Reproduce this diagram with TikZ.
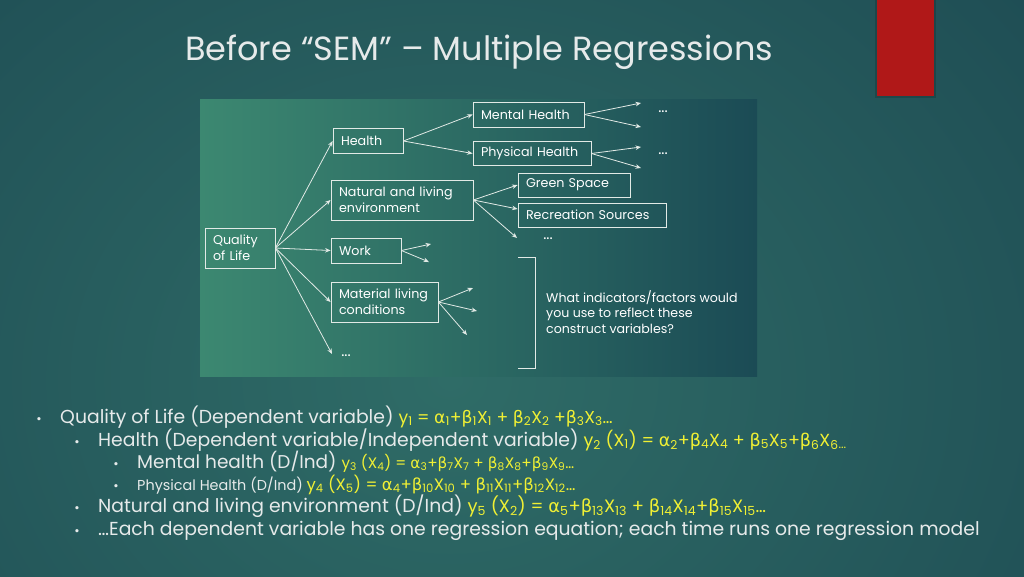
\documentclass[tikz,border=0pt]{standalone}
\usepackage{fontspec}
\setmainfont{Poppins}
\newfontfamily\grkfont{DejaVu Sans}
\usetikzlibrary{arrows.meta}
\definecolor{bgin}{HTML}{2F6C67}
\definecolor{bgout}{HTML}{153B49}
\definecolor{picleft}{HTML}{3C8871}
\definecolor{picright}{HTML}{1B4B55}
\definecolor{boxline}{HTML}{E2EAE6}
\definecolor{slidetxt}{HTML}{E6EAEA}
\definecolor{eqyellow}{HTML}{F0F034}
\definecolor{tagred}{HTML}{B01818}
\pgfdeclareradialshading{slidebg}{\pgfpoint{0bp}{0bp}}{color(0bp)=(bgin); color(50bp)=(bgout)}
\newcommand{\bet}{{\grkfont β}}
\newcommand{\alp}{{\grkfont α}}
\newcommand{\sbs}[1]{\textsubscript{#1}}
\newcommand{\fsz}[1]{\fontsize{#1}{#1}\selectfont}
\tikzset{
  cbox/.style={draw=boxline, line width=0.8pt, text=white, font=\fontsize{12.7}{16}\selectfont, align=left, inner xsep=8pt, inner ysep=0pt, minimum height=25pt},
  link/.style={draw=boxline, line width=0.8pt, -{Stealth[length=5.5pt,width=4.5pt]}},
  dots/.style={text=white, font=\fontsize{15}{15}\selectfont},
  lvlone/.style={text=slidetxt, anchor=base west, inner sep=0pt, font=\fontsize{18.8}{20}\selectfont},
  lvltwo/.style={lvlone},
  lvlthree/.style={lvlone, font=\fontsize{18.5}{20}\selectfont},
  lvlfour/.style={lvlone, font=\fontsize{14.4}{16}\selectfont},
  bul/.style={text=slidetxt, anchor=base, inner sep=0pt, font=\fontsize{13}{13}\selectfont}
}
\begin{document}
\begin{tikzpicture}[x=1pt,y=-1pt]
\useasboundingbox (0,0) rectangle (1024,576);
% slide background
\begin{scope}
\clip (0,0) rectangle (1024,576);
\shade[shading=slidebg] (-150,-120) rectangle (1050,880);
\end{scope}
\fill[black, opacity=0.15] (875,0) rectangle (936,98);
\fill[tagred] (877,0) rectangle (934,96);
\node[text=slidetxt, font=\fontsize{33.5}{36}\selectfont] (title) at (479,52) {Before “SEM” – Multiple Regressions};

% picture of the construct tree
\shade[left color=picleft, right color=picright] (200,99) rectangle (757,376);
\node[cbox, minimum height=40pt, text width=54pt] (qol) at (240,248) {Quality\\of Life};
\node[cbox, text width=54pt] (health) at (368,141) {Health};
\node[cbox, minimum height=40pt, text width=126pt] (natenv) at (402,200) {Natural and living\\environment};
\node[cbox, text width=54pt] (work) at (366,250.5) {Work};
\node[cbox, minimum height=40pt, text width=91pt] (matliv) at (384.5,302) {Material living\\conditions};
\node[cbox, text width=95pt] (mental) at (528.5,114.5) {Mental Health};
\node[cbox, minimum height=24pt, text width=102pt] (physical) at (532,153.5) {Physical Health};
\node[cbox, minimum height=24pt, text width=96pt] (green) at (574,185) {Green Space};
\node[cbox, minimum height=24pt, text width=132pt] (recr) at (592,215) {Recreation Sources};

\coordinate (qolend) at (332,354);
\coordinate (mentA) at (641,103);
\coordinate (mentB) at (641,127);
\coordinate (physA) at (641,147);
\coordinate (physB) at (641,168);
\coordinate (natend) at (517,238);
\coordinate (workA) at (431,244);
\coordinate (workB) at (429,262);
\coordinate (matA) at (473,288);
\coordinate (matB) at (477,311);
\coordinate (matC) at (467,335);

\draw[link] (qol.east) -- (health.west);
\draw[link] (qol.east) -- (natenv.west);
\draw[link] (qol.east) -- (work.west);
\draw[link] (qol.east) -- (matliv.west);
\draw[link] (qol.east) -- (qolend);
\draw[link] (health.east) -- (mental.west);
\draw[link] (health.east) -- (physical.west);
\draw[link] (mental.east) -- (mentA);
\draw[link] (mental.east) -- (mentB);
\draw[link] (physical.east) -- (physA);
\draw[link] (physical.east) -- (physB);
\draw[link] (natenv.east) -- (green.west);
\draw[link] (natenv.east) -- ([yshift=6pt]recr.west);
\draw[link] (natenv.east) -- (natend);
\draw[link] (work.east) -- (workA);
\draw[link] (work.east) -- (workB);
\draw[link] (matliv.east) -- (matA);
\draw[link] (matliv.east) -- (matB);
\draw[link] (matliv.east) -- (matC);

\node[dots] (dotsA) at (663,112) {...};
\node[dots] (dotsB) at (663,154) {...};
\node[dots] (dotsC) at (548,239) {...};
\node[dots] (dotsD) at (346,356) {...};

\coordinate (brtop) at (518,257);
\coordinate (brbot) at (518,368);
\draw[boxline, line width=1pt] (brtop) -- ++(17,0) |- (brbot);
\node[text=white, anchor=west, align=left, inner sep=0pt, font=\fontsize{12.6}{15.5}\selectfont] (quest) at (546,312) {What indicators/factors would\\you use to reflect these\\construct variables?};

% bullet list
\node[bul] (b1) at (39,423) {•};
\node[lvlone] (ln1) at (60,423) {Quality of Life (Dependent variable) \textcolor{eqyellow}{\fsz{17.2}y\sbs{1} = \alp\sbs{1}+\bet\sbs{1}X\sbs{1} + \bet\sbs{2}X\sbs{2} +\bet\sbs{3}X\sbs{3}…}};
\node[bul] (b2) at (77,446) {•};
\node[lvltwo] (ln2) at (98,446) {Health (Dependent variable/Independent variable) \textcolor{eqyellow}{\fsz{17.5}y\sbs{2} (X\sbs{1}) = \alp\sbs{2}+\bet\sbs{4}X\sbs{4} + \bet\sbs{5}X\sbs{5}+\bet\sbs{6}X\sbs{6}\sbs{...}}};
\node[bul] (b3) at (116,468) {•};
\node[lvlthree] (ln3) at (137,468) {Mental health (D/Ind) \textcolor{eqyellow}{\fsz{15.2}y\sbs{3} (X\sbs{4}) = \alp\sbs{3}+\bet\sbs{7}X\sbs{7} + \bet\sbs{8}X\sbs{8}+\bet\sbs{9}X\sbs{9}…}};
\node[bul] (b4) at (116,490) {•};
\node[lvlfour] (ln4) at (137,490) {Physical Health (D/Ind) \textcolor{eqyellow}{\fsz{16.5}y\sbs{4} (X\sbs{5}) = \alp\sbs{4}+\bet\sbs{10}X\sbs{10} + \bet\sbs{11}X\sbs{11}+\bet\sbs{12}X\sbs{12}…}};
\node[bul] (b5) at (77,512) {•};
\node[lvltwo] (ln5) at (98,512) {Natural and living environment (D/Ind) \textcolor{eqyellow}{\fsz{17.9}y\sbs{5} (X\sbs{2}) = \alp\sbs{5}+\bet\sbs{13}X\sbs{13} + \bet\sbs{14}X\sbs{14}+\bet\sbs{15}X\sbs{15}…}};
\node[bul] (b6) at (77,535) {•};
\node[lvltwo] (ln6) at (98,535) {…Each dependent variable has one regression equation; each time runs one regression model};
\end{tikzpicture}
\end{document}
